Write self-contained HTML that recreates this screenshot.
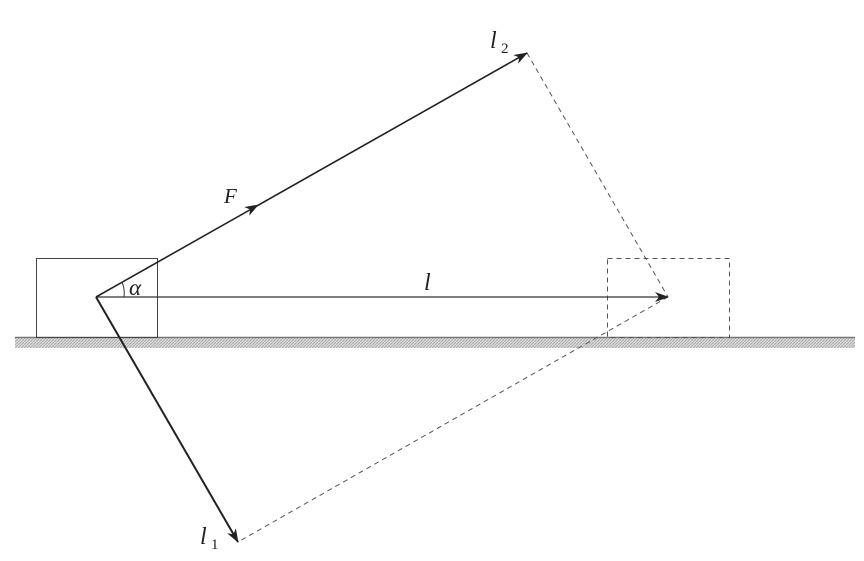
<!DOCTYPE html>
<html><head><meta charset="utf-8"><style>body{margin:0;background:#fff}svg{display:block}</style></head><body>
<svg width="864" height="561" viewBox="0 0 864 561" xmlns="http://www.w3.org/2000/svg">
<defs>
<marker id="a" markerWidth="14" markerHeight="10" refX="13" refY="5" orient="auto" markerUnits="userSpaceOnUse"><path d="M0,0 L14,5 L0,10 L4,5 Z" fill="#222"/></marker>
<pattern id="h" width="3" height="3" patternUnits="userSpaceOnUse"><rect width="3" height="3" fill="#ddd"/><path d="M0,3 L3,0" stroke="#aaa" stroke-width="1"/></pattern>
</defs>
<rect x="15" y="337" width="840" height="11" fill="url(#h)"/>
<line x1="15" y1="337.5" x2="855" y2="337.5" stroke="#777" stroke-width="1.5"/>
<rect x="36.5" y="258.5" width="121" height="79" fill="none" stroke="#444" stroke-width="1"/>
<rect x="607.5" y="258.5" width="122" height="79" fill="none" stroke="#555" stroke-width="1" stroke-dasharray="5,4"/>
<line x1="527" y1="53" x2="668" y2="297" stroke="#555" stroke-width="1" stroke-dasharray="5,4"/>
<line x1="668" y1="297" x2="238" y2="542" stroke="#555" stroke-width="1" stroke-dasharray="5,4"/>
<line x1="96" y1="297" x2="668" y2="297" stroke="#333" stroke-width="1.3" marker-end="url(#a)"/>
<line x1="96" y1="297" x2="527" y2="53" stroke="#222" stroke-width="1.6" marker-end="url(#a)"/>
<line x1="96" y1="297" x2="258" y2="205" stroke="none" marker-end="url(#a)"/>
<line x1="96" y1="297" x2="238" y2="542" stroke="#222" stroke-width="2" marker-end="url(#a)"/>
<path d="M122,282 A28,28 0 0 1 124,297" fill="none" stroke="#333" stroke-width="1"/>
<g font-family="Liberation Serif, serif" font-style="italic" fill="#222">
<text x="129" y="295" font-size="23">α</text>
<text x="224" y="203" font-size="21">F</text>
<text x="424" y="290" font-size="24">l</text>
<text x="490" y="48" font-size="24">l</text>
<text x="501" y="53" font-size="15" font-style="normal">2</text>
<text x="200" y="544" font-size="24">l</text>
<text x="211" y="549" font-size="15" font-style="normal">1</text>
</g>
</svg>
</body></html>
